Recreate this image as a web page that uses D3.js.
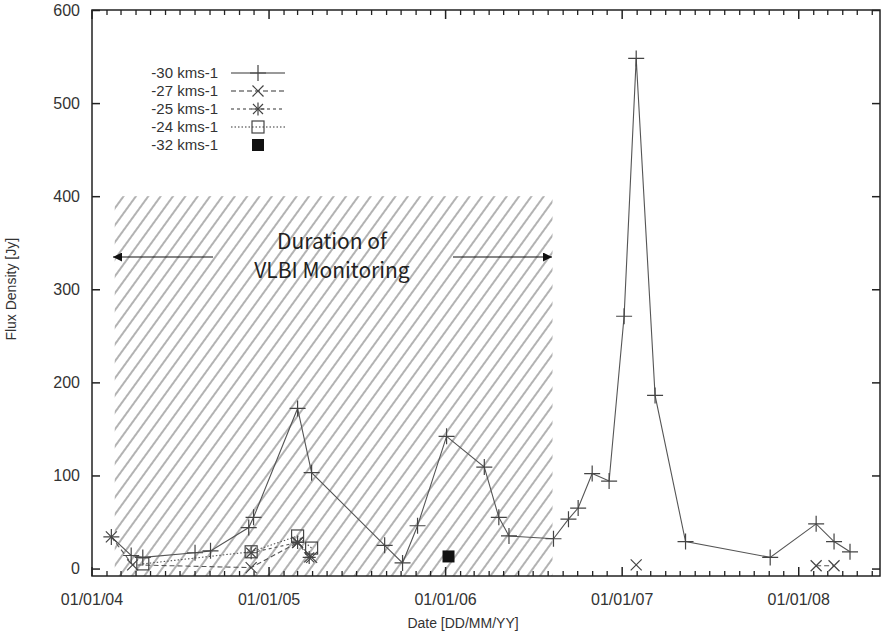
<!DOCTYPE html>
<html>
<head>
<meta charset="utf-8">
<script src="https://cdn.jsdelivr.net/npm/d3@7"></script>
<style>
  body { margin: 0; background: #fff; }
  text { font-family: "Liberation Sans", Arial, sans-serif; fill: #333; }
</style>
</head>
<body>
<div id="chart"></div>
<script>
// Data (null breaks a line)
const v30Dates = ["2004-02-10", "2004-03-22", "2004-04-15", "2004-08-01", "2004-09-02", "2004-11-20", "2004-11-30",
  "2005-03-01", "2005-03-30", "2005-08-28", "2005-10-04", "2005-11-04", "2006-01-03", "2006-03-22", "2006-04-21",
  "2006-05-12", "2006-08-12", "2006-09-12", "2006-10-02", "2006-10-31", "2006-12-05", "2007-01-05", "2007-01-30",
  "2007-03-10", "2007-05-12", "2007-11-03", "2008-02-06", "2008-03-14", "2008-04-16"];
const v30Values = [34, 14, 12, 17, 19, 44, 55, 172, 103, 25, 6, 46, 142, 109, 55, 35, 32, 53, 65, 102, 94, 271, 548,
  186, 29, 12, 48, 29, 18];

const v27Dates = ["2004-02-10", "2004-03-25", "2004-11-25", "2005-03-01", "2005-03-30", "2007-01-15", "2007-01-30", "2007-02-10", "2008-02-06", "2008-03-14"];
const v27Values = [34, 4, 1, 28, 12, null, 4, null, 3, 3];

const v25Dates = ["2004-11-25", "2005-03-01", "2005-03-25"];
const v25Values = [17, 28, 12];

const v24Dates = ["2004-04-15", "2004-11-25", "2005-03-01", "2005-03-30"];
const v24Values = [5, 18, 35, 22];

const v32Dates = ["2006-01-07"];
const v32Values = [13];

const yTicks = [0, 100, 200, 300, 400, 500, 600];
const xTickDates = ["2004-01-01", "2005-01-01", "2006-01-01", "2007-01-01", "2008-01-01"];
const vlbiStart = "2004-02-17", vlbiEnd = "2006-08-10", vlbiTop = 400;

const parse = d3.timeParse("%Y-%m-%d");
const zip = (ds, vs) => ds.map((d, i) => ({ date: parse(d), value: vs[i] }));

const margin = { top: 10, right: 1, bottom: 58, left: 92 };
const width = 881 - margin.left - margin.right;
const height = 634 - margin.top - margin.bottom;

const svg = d3.select("#chart").append("svg")
  .attr("width", 881).attr("height", 634);
const g = svg.append("g").attr("transform", `translate(${margin.left},${margin.top})`);

const x = d3.scaleTime().domain([parse("2004-01-01"), parse("2008-06-17")]).range([0, width]);
const y = d3.scaleLinear().domain([-8, 600]).range([height, 0]);

// hatch pattern
const defs = svg.append("defs");
defs.append("pattern")
  .attr("id", "hatch")
  .attr("patternUnits", "userSpaceOnUse")
  .attr("width", 10).attr("height", 10)
  .attr("patternTransform", "rotate(36)")
  .append("line")
  .attr("x1", 5).attr("y1", 0).attr("x2", 5).attr("y2", 10)
  .attr("stroke", "#555").attr("stroke-width", 0.9);
defs.append("marker")
  .attr("id", "arrow")
  .attr("viewBox", "0 0 10 10").attr("refX", 10).attr("refY", 5)
  .attr("markerWidth", 12).attr("markerHeight", 9).attr("markerUnits", "userSpaceOnUse")
  .attr("orient", "auto")
  .append("path").attr("d", "M0,0L10,5L0,10Z").attr("fill", "#111");

g.append("rect")
  .attr("x", x(parse(vlbiStart)))
  .attr("y", y(vlbiTop))
  .attr("width", x(parse(vlbiEnd)) - x(parse(vlbiStart)))
  .attr("height", height - y(vlbiTop))
  .attr("fill", "url(#hatch)");

// annotation
const arrowY = 247;
g.append("line").attr("x1", 121).attr("x2", 21).attr("y1", arrowY).attr("y2", arrowY)
  .attr("stroke", "#111").attr("stroke-width", 1.2).attr("marker-end", "url(#arrow)");
g.append("line").attr("x1", 361).attr("x2", 460).attr("y1", arrowY).attr("y2", arrowY)
  .attr("stroke", "#111").attr("stroke-width", 1.2).attr("marker-end", "url(#arrow)");
g.append("text").attr("x", 240).attr("y", 239).attr("text-anchor", "middle")
  .style("font-family", "'Noto Sans CJK JP', 'DejaVu Sans', sans-serif")
  .style("font-size", "21px").style("fill", "#222").text("Duration of");
g.append("text").attr("x", 240).attr("y", 268).attr("text-anchor", "middle")
  .style("font-family", "'Noto Sans CJK JP', 'DejaVu Sans', sans-serif")
  .style("font-size", "21px").style("fill", "#222").text("VLBI Monitoring");

// frame and ticks
g.append("rect").attr("width", width).attr("height", height)
  .attr("fill", "none").attr("stroke", "#222").attr("stroke-width", 1.5);

const yAxis = d3.axisLeft(y).tickValues(yTicks).tickSize(-8).tickPadding(12);
g.append("g").call(yAxis).call(a => a.select(".domain").remove())
  .call(a => a.selectAll("text").style("font-size", "16px").style("fill", "#333"))
  .call(a => a.selectAll("line").attr("stroke", "#222").attr("stroke-width", 1.5));
g.append("g").attr("transform", `translate(${width},0)`)
  .call(d3.axisRight(y).tickValues(yTicks).tickSize(-8).tickFormat(""))
  .call(a => a.select(".domain").remove())
  .call(a => a.selectAll("line").attr("stroke", "#222").attr("stroke-width", 1.5));

const monthTicks = d3.timeMonth.range(parse("2004-02-01"), x.domain()[1]).filter(d => d.getMonth() !== 0);
const yearTicks = xTickDates.map(parse);
[[height, -1], [0, 1]].forEach(([ty, dir]) => {
  g.append("g").selectAll("line").data(monthTicks).join("line")
    .attr("x1", d => x(d)).attr("x2", d => x(d))
    .attr("y1", ty).attr("y2", ty + dir * 5)
    .attr("stroke", "#222").attr("stroke-width", 1.3);
  g.append("g").selectAll("line").data(yearTicks).join("line")
    .attr("x1", d => x(d)).attr("x2", d => x(d))
    .attr("y1", ty).attr("y2", ty + dir * 9)
    .attr("stroke", "#222").attr("stroke-width", 1.5);
});
g.append("g").selectAll("text").data(yearTicks).join("text")
  .attr("x", d => x(d)).attr("y", height + 29)
  .attr("text-anchor", "middle").style("font-size", "16px")
  .text(d => d3.timeFormat("%d/%m/%y")(d));

g.append("text").attr("x", 371).attr("y", height + 52).attr("text-anchor", "middle")
  .style("font-size", "14px").text("Date [DD/MM/YY]");
g.append("text").attr("transform", `translate(-76,${y(300)}) rotate(-90)`)
  .attr("text-anchor", "middle").style("font-size", "14px").text("Flux Density [Jy]");

// markers
const plus = (sel, s) => sel.append("path").attr("d", `M${-s},0H${s}M0,${-s}V${s}`);
const cross = (sel, s) => sel.append("path").attr("d", `M${-s},${-s}L${s},${s}M${-s},${s}L${s},${-s}`);
const markers = {
  p30: (sel) => plus(sel, 8),
  p27: (sel) => cross(sel, 5.5),
  p25: (sel) => { plus(sel, 6.5); cross(sel, 5); },
  p24: (sel) => sel.append("rect").attr("x", -6).attr("y", -6).attr("width", 12).attr("height", 12).attr("fill", "none"),
  p32: (sel) => sel.append("rect").attr("x", -6).attr("y", -6).attr("width", 12).attr("height", 12).attr("fill", "#111").attr("stroke", "none")
};

const series = [
  { name: "-30 kms-1", data: zip(v30Dates, v30Values), dash: null, mk: "p30", line: true },
  { name: "-27 kms-1", data: zip(v27Dates, v27Values), dash: "5,3", mk: "p27", line: true },
  { name: "-25 kms-1", data: zip(v25Dates, v25Values), dash: "3,3", mk: "p25", line: true },
  { name: "-24 kms-1", data: zip(v24Dates, v24Values), dash: "1.5,2", mk: "p24", line: true },
  { name: "-32 kms-1", data: zip(v32Dates, v32Values), dash: null, mk: "p32", line: false }
];

const line = d3.line().defined(d => d.value !== null).x(d => x(d.date)).y(d => y(d.value));

series.forEach(s => {
  if (s.line) {
    g.append("path").datum(s.data).attr("d", line)
      .attr("fill", "none").attr("stroke", "#555").attr("stroke-width", 1.1)
      .attr("stroke-dasharray", s.dash);
  }
  g.append("g").selectAll("g").data(s.data.filter(d => d.value !== null)).join("g")
    .attr("transform", d => `translate(${x(d.date)},${y(d.value)})`)
    .attr("stroke", "#444").attr("stroke-width", 1.2)
    .each(function () { markers[s.mk](d3.select(this)); });
});

// legend
const legend = g.append("g").selectAll("g").data(series).join("g")
  .attr("transform", (d, i) => `translate(0,${63 + i * 18})`);
legend.append("text").attr("x", 126).attr("y", 0).attr("dy", "0.35em")
  .attr("text-anchor", "end").style("font-size", "15px").text(d => d.name);
legend.filter(d => d.line).append("line").attr("x1", 139).attr("x2", 193)
  .attr("stroke", "#777").attr("stroke-width", 1.3).attr("stroke-dasharray", d => d.dash);
legend.append("g").attr("transform", "translate(166,0)")
  .attr("stroke", "#444").attr("stroke-width", 1.2)
  .each(function (d) { markers[d.mk](d3.select(this)); });
</script>
</body>
</html>
